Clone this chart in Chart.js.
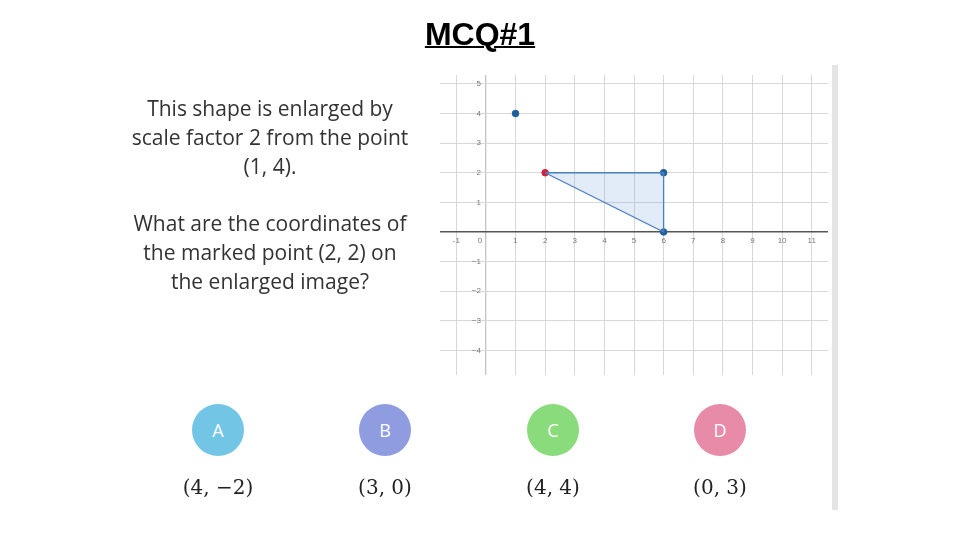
<!DOCTYPE html>
<html><head><meta charset="utf-8">
<script src="https://cdn.jsdelivr.net/npm/chart.js@4"></script>
<style>
body{margin:0;width:960px;height:540px;background:#fff;position:relative;overflow:hidden;font-family:"Open Sans",sans-serif}
#c{position:absolute;left:0;top:0}
.t{position:absolute;text-align:center}
.circ{position:absolute;width:52px;height:52px;border-radius:50%;color:#fff;font:18px "Open Sans";line-height:52px;text-align:center}
.ans{position:absolute;width:120px;text-align:center;font:20px "DejaVu Serif",serif;color:#222}
</style></head><body>
<canvas id="c" width="960" height="540"></canvas>
<div class="t" style="left:370px;top:16px;width:220px;font:bold 32px 'Liberation Sans';text-decoration:underline;text-decoration-thickness:2px">MCQ#1</div>
<div class="t" style="left:105px;top:94px;width:330px;font:21px 'Open Sans';line-height:29px;color:#333">This shape is enlarged by<br>scale factor 2 from the point<br>(1, 4).<br><div style="height:28px"></div>What are the coordinates of<br>the marked point (2, 2) on<br>the enlarged image?</div>
<div style="position:absolute;left:832px;top:65px;width:6px;height:445px;background:#e4e4e4"></div>
<div id="opts"></div>
<script>
const vertices_x=[2,6,6,2];
const vertices_y=[2,2,0,2];
const centre=[1,4];
const marked=[2,2];
const xTicks=[-1,0,1,2,3,4,5,6,7,8,9,10,11];
const yTicks=[-4,-3,-2,-1,0,1,2,3,4,5];
const optLetters=["A","B","C","D"];
const optAnswers=["(4, \u22122)","(3, 0)","(4, 4)","(0, 3)"];
const optColors=["#72c5e5","#8f9ce0","#8adb7c","#e78ba8"];
const optX=[218,385,553,720];

const opts=document.getElementById('opts');
optLetters.forEach((l,i)=>{
  opts.insertAdjacentHTML('beforeend',`<div class="circ" style="left:${optX[i]-26}px;top:404px;background:${optColors[i]}">${l}</div><div class="ans" style="left:${optX[i]-60}px;top:475px">${optAnswers[i]}</div>`);
});

const labelPlugin={id:'lbl',afterDraw(ch){
  const c=ch.ctx,xs=ch.scales.x,ys=ch.scales.y;
  c.save();c.fillStyle='#777';c.font='8px "Liberation Sans"';
  c.textAlign='center';c.textBaseline='top';
  xTicks.forEach(v=>c.fillText(String(v),xs.getPixelForValue(v)+(v===0?-6:0),ys.getPixelForValue(0)+5));
  c.textAlign='right';c.textBaseline='middle';
  yTicks.forEach(v=>{if(v!==0)c.fillText(v<0?'\u2212'+(-v):String(v),xs.getPixelForValue(0)-5,ys.getPixelForValue(v));});
  c.restore();
}};

new Chart(document.getElementById('c'),{
  type:'scatter',
  data:{datasets:[
    {type:'line',data:vertices_x.map((x,i)=>({x,y:vertices_y[i]})),borderColor:'#4a7fc0',borderWidth:1.3,backgroundColor:'rgba(120,170,225,0.22)',fill:'shape',pointRadius:0,tension:0},
    {data:[{x:centre[0],y:centre[1]},{x:6,y:2},{x:6,y:0}],backgroundColor:'#1f5fa0',borderColor:'#1f5fa0',pointRadius:3.3},
    {data:[{x:marked[0],y:marked[1]}],backgroundColor:'#d0203a',borderColor:'#d0203a',pointRadius:3.3}
  ]},
  options:{responsive:false,animation:false,events:[],
    layout:{padding:{left:440,right:132,top:75,bottom:165}},
    plugins:{legend:{display:false},tooltip:{enabled:false}},
    scales:{
      x:{type:'linear',min:-1.55,max:11.55,afterBuildTicks:s=>{s.ticks=xTicks.map(v=>({value:v}))},
        ticks:{display:false},border:{display:false},
        grid:{color:c=>c.tick&&c.tick.value===0?'#c4c4c4':'#d8d8d8',lineWidth:c=>c.tick&&c.tick.value===0?1.3:1,drawTicks:false}},
      y:{type:'linear',min:-4.83,max:5.3,afterBuildTicks:s=>{s.ticks=yTicks.map(v=>({value:v}))},
        ticks:{display:false},border:{display:false},
        grid:{color:c=>c.tick&&c.tick.value===0?'#555':'#d8d8d8',lineWidth:c=>c.tick&&c.tick.value===0?1.5:1,drawTicks:false}}
    }},
  plugins:[labelPlugin]
});
</script>
</body></html>
